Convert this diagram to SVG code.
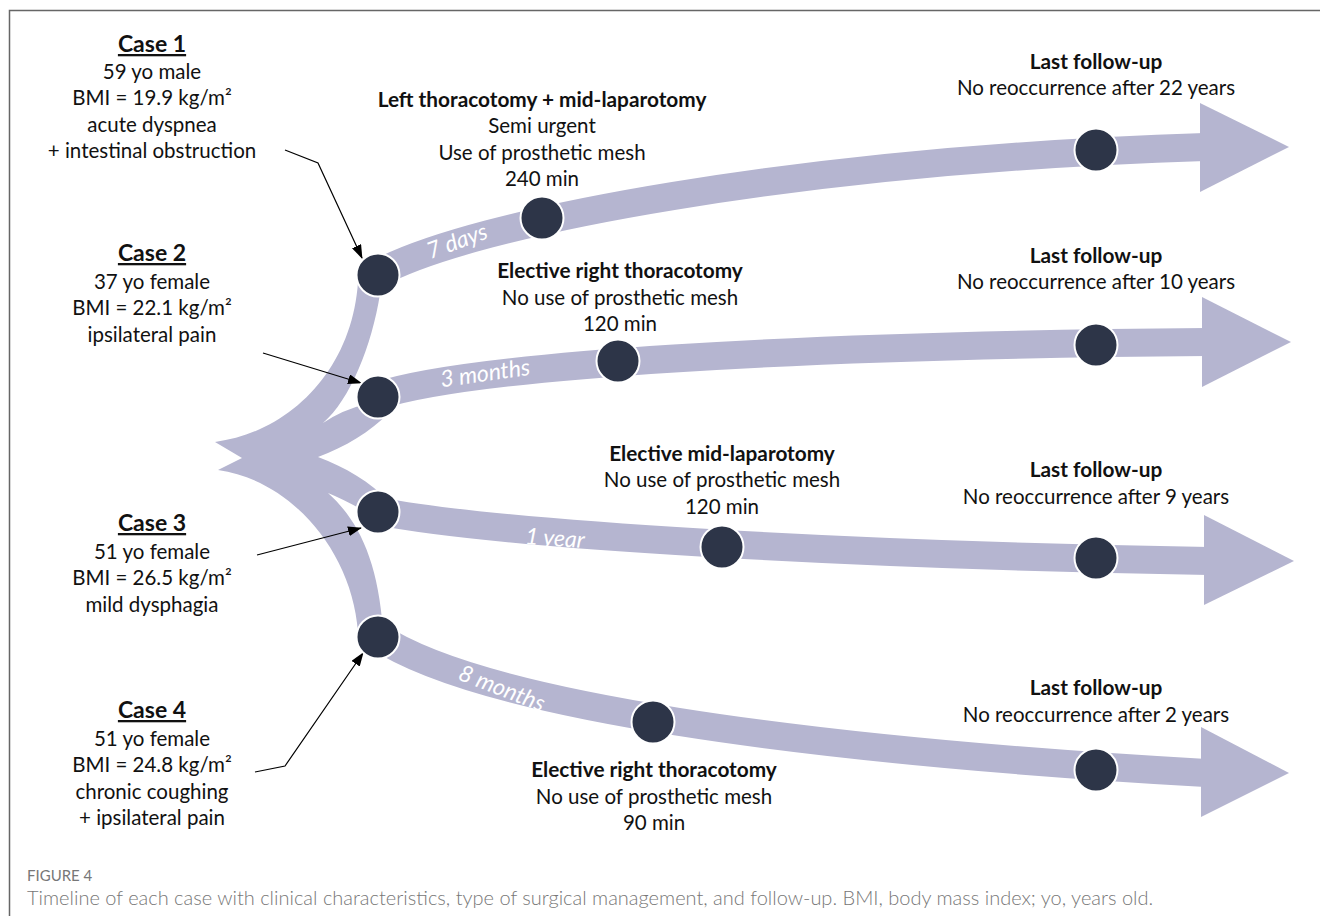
<svg xmlns="http://www.w3.org/2000/svg" width="1320" height="916" viewBox="0 0 1320 916">
<defs>
<marker id="ah" markerWidth="14" markerHeight="10" refX="13" refY="5" orient="auto" markerUnits="userSpaceOnUse">
<path d="M0,0 L14,5 L0,10 Z" fill="#000"/>
</marker>
<style>
.t{font-family:Lato,"Open Sans",sans-serif;font-size:20.5px;fill:#111;text-anchor:middle}
.b{font-weight:bold;font-size:20.8px}
.h{font-weight:bold;font-size:23px;text-decoration:underline}
.band{fill:none;stroke:#b5b5d0;stroke-width:28}
.head{fill:#b5b5d0}
.node{fill:#2d3548;stroke:#fff;stroke-width:2}
.lbl{font-family:Lato,"Open Sans",sans-serif;font-size:23px;font-style:italic;fill:#fff;text-anchor:middle}
.ptr{fill:none;stroke:#000;stroke-width:1.2;marker-end:url(#ah)}
.cap{font-family:Lato,"Open Sans",sans-serif;fill:#777}
</style>
</defs>
<rect width="1320" height="916" fill="#fff"/>
<path d="M9.5,916 V10.5 H1320" fill="none" stroke="#666" stroke-width="1.5"/>

<g id="bands">
<path fill="#b5b5d0" d="M215,442 C290,432 352,370 358,282 L380,262 L380,294 C372,345 350,400 323,423 Q342,410 366,404 L390,412 C370,432 345,447 318,457 C345,467 370,482 390,502 L366,512 Q345,500 328,493 C358,520 378,560 383,630 L358,632 C352,550 290,480 218,470 L242,458 Z"/>
<path class="band" d="M377,274 C470,222 800,160 1205,147"/>
<polygon class="head" points="1200,103 1289,147 1200,192"/>
<path class="band" d="M377,396 C470,365 800,345 1207,342"/>
<polygon class="head" points="1202,297 1291,342 1202,387"/>
<path class="band" d="M377,511 C500,535 850,555 1209,561"/>
<polygon class="head" points="1204,515 1294,561 1204,605"/>
<path class="band" d="M377,636 C480,705 800,750 1206,773"/>
<polygon class="head" points="1201,727 1289,773 1201,817"/>
<text class="lbl" transform="translate(457,241) rotate(-20)" dy="0.35em">7 days</text>
<text class="lbl" transform="translate(485,373) rotate(-8)" dy="0.35em">3 months</text>
<text class="lbl" transform="translate(555,538) rotate(4)" dy="0.35em">1 year</text>
<text class="lbl" transform="translate(502,688) rotate(21)" dy="0.35em">8 months</text>
</g>

<g id="connectors">
<polyline class="ptr" points="285,150 318,163 362,258"/>
<line class="ptr" x1="263" y1="353" x2="361" y2="383"/>
<line class="ptr" x1="257" y1="555" x2="361" y2="528"/>
<polyline class="ptr" points="255,772 285,766 363,653"/>
</g>

<g id="case1-nodes">
<circle class="node" cx="378" cy="275" r="21.5"/>
<circle class="node" cx="542" cy="218" r="21.5"/>
<circle class="node" cx="1096" cy="150" r="21.5"/>
</g>
<g id="case2-nodes">
<circle class="node" cx="378" cy="397" r="21.5"/>
<circle class="node" cx="618" cy="361" r="21.5"/>
<circle class="node" cx="1096" cy="345" r="21.5"/>
</g>
<g id="case3-nodes">
<circle class="node" cx="378" cy="512" r="21.5"/>
<circle class="node" cx="722" cy="547" r="21.5"/>
<circle class="node" cx="1096" cy="558" r="21.5"/>
</g>
<g id="case4-nodes">
<circle class="node" cx="378" cy="637" r="21.5"/>
<circle class="node" cx="653" cy="722" r="21.5"/>
<circle class="node" cx="1096" cy="770" r="21.5"/>
</g>

<g id="case1">
<text x="152" y="52" class="t h">Case 1</text>
<text x="152" y="79" class="t">59 yo male</text>
<text x="152" y="105" class="t">BMI = 19.9 kg/m²</text>
<text x="152" y="132" class="t">acute dyspnea</text>
<text x="152" y="158" class="t">+ intestinal obstruction</text>
</g>
<g id="case2">
<text x="152" y="261" class="t h">Case 2</text>
<text x="152" y="289" class="t">37 yo female</text>
<text x="152" y="315" class="t">BMI = 22.1 kg/m²</text>
<text x="152" y="342" class="t">ipsilateral pain</text>
</g>
<g id="case3">
<text x="152" y="531" class="t h">Case 3</text>
<text x="152" y="559" class="t">51 yo female</text>
<text x="152" y="585" class="t">BMI = 26.5 kg/m²</text>
<text x="152" y="612" class="t">mild dysphagia</text>
</g>
<g id="case4">
<text x="152" y="718" class="t h">Case 4</text>
<text x="152" y="746" class="t">51 yo female</text>
<text x="152" y="772" class="t">BMI = 24.8 kg/m²</text>
<text x="152" y="799" class="t">chronic coughing</text>
<text x="152" y="825" class="t">+ ipsilateral pain</text>
</g>

<g id="surgery1">
<text x="542" y="107" class="t b">Left thoracotomy + mid-laparotomy</text>
<text x="542" y="133" class="t">Semi urgent</text>
<text x="542" y="160" class="t">Use of prosthetic mesh</text>
<text x="542" y="186" class="t">240 min</text>
</g>
<g id="surgery2">
<text x="620" y="278" class="t b">Elective right thoracotomy</text>
<text x="620" y="305" class="t">No use of prosthetic mesh</text>
<text x="620" y="331" class="t">120 min</text>
</g>
<g id="surgery3">
<text x="722" y="461" class="t b">Elective mid-laparotomy</text>
<text x="722" y="487" class="t">No use of prosthetic mesh</text>
<text x="722" y="514" class="t">120 min</text>
</g>
<g id="surgery4">
<text x="654" y="777" class="t b">Elective right thoracotomy</text>
<text x="654" y="804" class="t">No use of prosthetic mesh</text>
<text x="654" y="830" class="t">90 min</text>
</g>

<g id="followup1">
<text x="1096" y="69" class="t b">Last follow-up</text>
<text x="1096" y="95" class="t">No reoccurrence after 22 years</text>
</g>
<g id="followup2">
<text x="1096" y="263" class="t b">Last follow-up</text>
<text x="1096" y="289" class="t">No reoccurrence after 10 years</text>
</g>
<g id="followup3">
<text x="1096" y="477" class="t b">Last follow-up</text>
<text x="1096" y="504" class="t">No reoccurrence after 9 years</text>
</g>
<g id="followup4">
<text x="1096" y="695" class="t b">Last follow-up</text>
<text x="1096" y="722" class="t">No reoccurrence after 2 years</text>
</g>

<g id="caption">
<text x="27" y="881" class="cap" font-size="15" fill="#666">FIGURE 4</text>
<text x="27" y="905" class="cap" font-size="20" font-weight="300">Timeline of each case with clinical characteristics, type of surgical management, and follow-up. BMI, body mass index; yo, years old.</text>
</g>
</svg>
